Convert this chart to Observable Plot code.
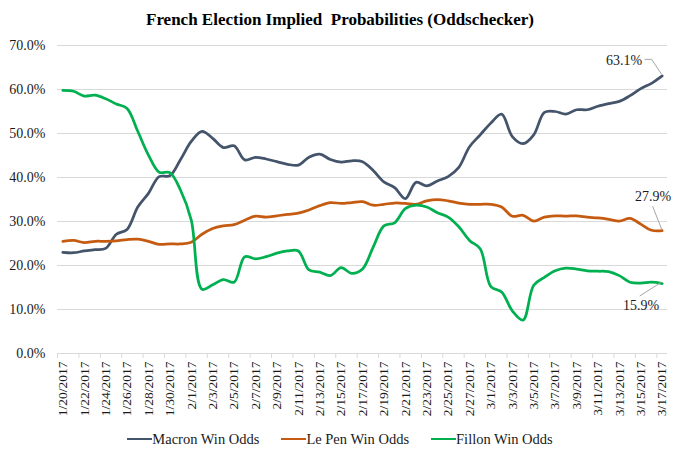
<!DOCTYPE html>
<html>
<head>
<meta charset="utf-8">
<script src="https://cdn.jsdelivr.net/npm/d3@7"></script>
<script src="https://cdn.jsdelivr.net/npm/@observablehq/plot@0.6"></script>
<style>
  body { margin: 0; background: #fff; font-family: "Liberation Serif", "Times New Roman", serif; }
  #wrap { width: 680px; height: 458px; position: relative; overflow: hidden; background: #fff; }
  #title { height: 20px; padding-top: 10px; line-height: 20px; text-align: center; font-weight: bold;
           font-size: 17px; white-space: pre; color: #000; }
  #chart { position: absolute; left: 0; top: 30px; }
  #legend { position: absolute; left: 0; top: 430px; width: 680px; height: 18px; display: flex;
            justify-content: center; align-items: center; gap: 22px; font-size: 14.5px; line-height: 18px; color: #1a1a1a; }
  .item { display: flex; align-items: center; white-space: pre; }
  .sw { width: 25px; height: 2.5px; }
</style>
</head>
<body>
<div id="wrap">
  <div id="title"></div>
  <div id="chart"></div>
  <div id="legend"></div>
</div>
<script>
const titleText = "French Election Implied  Probabilities (Oddschecker)";

const dates = [
  "1/20/2017","1/21/2017","1/22/2017","1/23/2017","1/24/2017","1/25/2017","1/26/2017","1/27/2017",
  "1/28/2017","1/29/2017","1/30/2017","1/31/2017","2/1/2017","2/2/2017","2/3/2017","2/4/2017",
  "2/5/2017","2/6/2017","2/7/2017","2/8/2017","2/9/2017","2/10/2017","2/11/2017","2/12/2017",
  "2/13/2017","2/14/2017","2/15/2017","2/16/2017","2/17/2017","2/18/2017","2/19/2017","2/20/2017",
  "2/21/2017","2/22/2017","2/23/2017","2/24/2017","2/25/2017","2/26/2017","2/27/2017","2/28/2017",
  "3/1/2017","3/2/2017","3/3/2017","3/4/2017","3/5/2017","3/6/2017","3/7/2017","3/8/2017",
  "3/9/2017","3/10/2017","3/11/2017","3/12/2017","3/13/2017","3/14/2017","3/15/2017","3/16/2017",
  "3/17/2017"
];

const macron = [
  23.0, 22.9, 23.3, 23.6, 23.9, 27.1, 28.2, 33.3, 36.4, 40.2, 40.4, 44.1, 48.2, 50.5, 48.9, 46.8,
  47.2, 44.0, 44.6, 44.2, 43.6, 43.0, 42.8, 44.6, 45.3, 44.1, 43.5, 43.8, 43.6, 41.6, 39.0, 37.7,
  35.2, 38.9, 38.1, 39.2, 40.2, 42.3, 47.0, 49.7, 52.4, 54.4, 49.3, 47.7, 49.7, 54.8, 55.0, 54.4,
  55.4, 55.4, 56.2, 56.8, 57.3, 58.6, 60.2, 61.4, 63.1
];

const lepen = [
  25.5, 25.7, 25.2, 25.5, 25.5, 25.6, 25.9, 26.0, 25.5, 24.8, 24.9, 24.9, 25.3, 27.1, 28.4, 29.0,
  29.3, 30.3, 31.2, 31.0, 31.3, 31.6, 31.9, 32.6, 33.6, 34.3, 34.1, 34.3, 34.5, 33.7, 33.9, 34.2,
  34.1, 33.9, 34.7, 35.0, 34.7, 34.2, 33.9, 33.9, 33.9, 33.3, 31.2, 31.4, 30.1, 31.0, 31.3, 31.2,
  31.3, 31.0, 30.8, 30.5, 30.1, 30.7, 29.4, 28.0, 27.9
];

const fillon = [
  59.8, 59.6, 58.5, 58.7, 57.9, 56.7, 55.7, 50.5, 45.1, 41.2, 41.1, 37.1, 30.3, 14.6, 15.6, 16.8,
  16.2, 22.0, 21.5, 22.0, 22.8, 23.3, 23.3, 19.0, 18.5, 17.7, 19.5, 18.2, 19.2, 24.2, 29.0, 29.7,
  32.9, 33.7, 33.3, 32.0, 31.0, 28.8, 25.7, 23.8, 15.2, 14.0, 9.7, 7.6, 15.5, 17.3, 18.8, 19.4,
  19.2, 18.8, 18.7, 18.6, 17.7, 16.2, 16.0, 16.2, 15.9
];

const seriesNames = ["Macron Win Odds", "Le Pen Win Odds", "Fillon Win Odds"];
const seriesColors = ["#44546a", "#c55a11", "#00b050"];
const seriesValues = [macron, lepen, fillon];
const yTicks = [0, 10, 20, 30, 40, 50, 60, 70];

// --- build
document.getElementById("title").textContent = titleText;

const last = dates.length - 1;
const labelIdx = dates.map((d, i) => i).filter(i => i % 2 === 0);
const tickBounds = labelIdx.map(i => i - 0.5);

// end-of-line annotation styling (pixel offsets from the data point)
const endStyles = [
  {dx: -20, dy: -15, anchor: "end", leader: [[0, -1], [-10, -16], [-17, -16]]},
  {dx: -9, dy: -34, anchor: "middle", leader: [[0, -1], [-9, -24]]},
  {dx: -21, dy: 22, anchor: "middle", leader: [[0, -1], [-22, 13]]}
];

const lineMarks = seriesValues.map((vals, s) =>
  Plot.line(vals.map((v, i) => ({i, v})), {
    x: "i", y: "v", stroke: seriesColors[s], strokeWidth: 2.75, curve: "catmull-rom"
  })
);

const endTextMarks = seriesValues.map((vals, s) =>
  Plot.text([{i: last, v: vals[last]}], {
    x: "i", y: "v", text: d => d.v.toFixed(1) + "%",
    dx: endStyles[s].dx, dy: endStyles[s].dy, textAnchor: endStyles[s].anchor,
    fontSize: 14, fill: "#1a1a1a"
  })
);

function leaders(index, scales) {
  const g = d3.create("svg:g");
  seriesValues.forEach((vals, s) => {
    const x0 = scales.x(last), y0 = scales.y(vals[last]);
    g.append("polyline")
      .attr("points", endStyles[s].leader.map(([dx, dy]) => `${x0 + dx},${y0 + dy}`).join(" "))
      .attr("fill", "none").attr("stroke", "#a6a6a6").attr("stroke-width", 1);
  });
  return g.node();
}

const chart = Plot.plot({
  width: 680,
  height: 400,
  marginTop: 15,
  marginBottom: 77,
  marginLeft: 57,
  marginRight: 13,
  style: {fontFamily: '"Liberation Serif", "Times New Roman", serif', background: "#fff", overflow: "visible"},
  x: {type: "linear", domain: [-0.5, last + 0.5], label: null},
  y: {domain: [0, 70], label: null},
  marks: [
    Plot.gridY({ticks: yTicks, stroke: "#d9d9d9", strokeOpacity: 1, strokeWidth: 1}),
    Plot.axisY({ticks: yTicks, tickSize: 0, tickPadding: 12, label: null,
                tickFormat: d => d.toFixed(1) + "%", fontSize: 14, fill: "#1a1a1a"}),
    Plot.axisX({ticks: tickBounds, tickSize: 5, tickFormat: () => "", label: null,
                stroke: "#d9d9d9", strokeOpacity: 1}),
    Plot.axisX({ticks: labelIdx, tickSize: 0, tickPadding: 8, tickRotate: -90, label: null,
                tickFormat: i => dates[i], fontSize: 13.5, fill: "#1a1a1a"}),
    ...lineMarks,
    leaders,
    ...endTextMarks
  ]
});
document.getElementById("chart").appendChild(chart);

// legend
const legend = document.getElementById("legend");
seriesNames.forEach((name, s) => {
  const item = document.createElement("div");
  item.className = "item";
  const sw = document.createElement("div");
  sw.className = "sw";
  sw.style.background = seriesColors[s];
  const t = document.createElement("span");
  t.textContent = name;
  item.appendChild(sw);
  item.appendChild(t);
  legend.appendChild(item);
});
</script>
</body>
</html>
